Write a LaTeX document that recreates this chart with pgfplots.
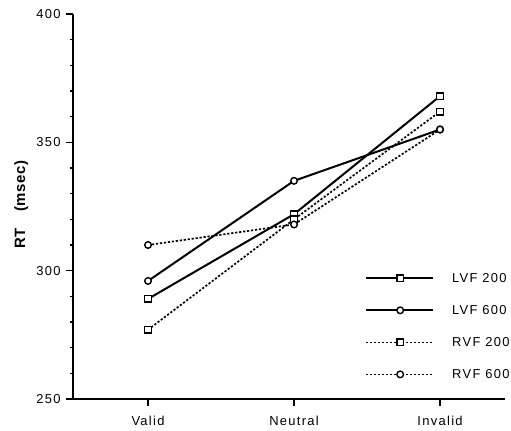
\documentclass[border=0pt]{standalone}
\usepackage{fontspec}
\setmainfont{Liberation Sans}[LetterSpace=10]
\newfontfamily\labelfont{Liberation Sans}[LetterSpace=4]
\usepackage{pgfplots}
\pgfplotsset{compat=1.18}

\begin{document}
\begin{tikzpicture}
\begin{axis}[
    scale only axis,
    width=432bp, height=385bp,
    xmin=-0.514, xmax=2.445,
    ymin=250, ymax=400,
    clip=false,
    axis x line*=bottom,
    axis y line*=left,
    axis line style={line width=1.6bp},
    xtick={0,1,2},
    xticklabels={Valid,Neutral,Invalid},
    ytick={250,300,350,400},
    minor y tick num=4,
    tick align=outside,
    major tick length=7bp,
    minor tick length=3bp,
    tick style={black, line width=1.2bp},
    /pgf/number format/assume math mode=true,
    ticklabel style={font=\fontsize{13}{15}\selectfont},
    xticklabel style={yshift=-7bp},
    yticklabel style={xshift=-2bp},
    legend style={draw=none, fill=none, at={(rel axis cs:0.669,0.338)}, anchor=north west,
        row sep=17.5bp, font=\fontsize{13}{15}\selectfont,
        /tikz/every odd column/.append style={column sep=16bp}},
    legend cell align=left,
    legend image code/.code={\draw[mark repeat=2,mark phase=2] plot coordinates {(0bp,0bp) (34bp,0bp) (67bp,0bp)};},
    mark size=3.3bp,
]
\coordinate (O) at (rel axis cs:0,0);
\node[rotate=90, font=\labelfont\bfseries\fontsize{15}{17}\selectfont] at (rel axis cs:-0.12,0.505) {RT\hspace{1.1em}(msec)};

\addplot[black, line width=2bp, mark=square*, mark options={solid, fill=white, line width=1.4bp}]
    coordinates {(0,289) (1,322) (2,368)};
\addplot[black, line width=2bp, mark=*, mark options={solid, fill=white, line width=1.4bp}]
    coordinates {(0,296) (1,335) (2,355)};
\addplot[black, line width=1.7bp, dash pattern=on 2.2bp off 1.8bp, mark=square*, mark options={solid, fill=white, line width=1.4bp}]
    coordinates {(0,277) (1,320) (2,362)};
\addplot[black, line width=1.7bp, dash pattern=on 2.2bp off 1.8bp, mark=*, mark options={solid, fill=white, line width=1.4bp}]
    coordinates {(0,310) (1,318) (2,355)};

\legend{LVF 200, LVF 600, RVF 200, RVF 600}
\end{axis}
\pgfresetboundingbox
\path (O) ++(-73bp,-32bp) rectangle ++(511bp,431bp);
\end{tikzpicture}
\end{document}
